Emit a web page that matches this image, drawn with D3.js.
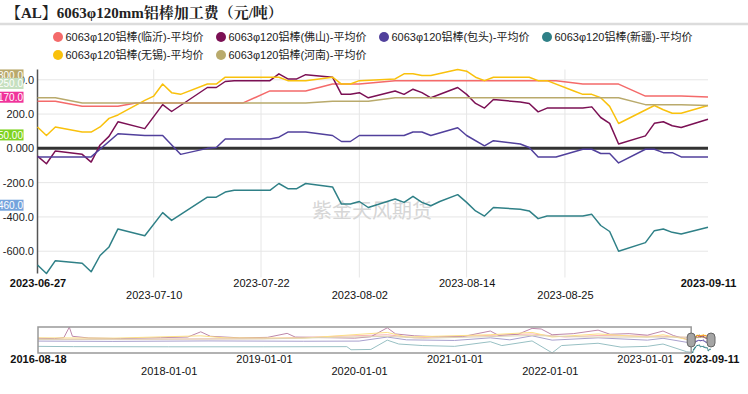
<!DOCTYPE html>
<html>
<head>
<meta charset="utf-8">
<script src="https://cdn.jsdelivr.net/npm/d3@7"></script>
<style>
body { margin: 0; background: #fff; }
svg { display: block; font-family: "Liberation Sans", Arial, "Noto Sans CJK SC", sans-serif; }
</style>
</head>
<body>
<div id="chart"></div>
<script>
// x categories (one per point of the zoomed window)
const dates = [
  "2023-06-27","2023-06-28","2023-06-29","2023-06-30",
  "2023-07-01","2023-07-02","2023-07-03","2023-07-04","2023-07-05","2023-07-06","2023-07-07","2023-07-08",
  "2023-07-09","2023-07-10","2023-07-11","2023-07-12","2023-07-13","2023-07-14","2023-07-15","2023-07-16",
  "2023-07-17","2023-07-18","2023-07-19","2023-07-20","2023-07-21","2023-07-22","2023-07-23","2023-07-24",
  "2023-07-25","2023-07-26","2023-07-27","2023-07-28","2023-07-29","2023-07-30","2023-07-31",
  "2023-08-01","2023-08-02","2023-08-03","2023-08-04","2023-08-05","2023-08-06","2023-08-07","2023-08-08",
  "2023-08-09","2023-08-10","2023-08-11","2023-08-12","2023-08-13","2023-08-14","2023-08-15","2023-08-16",
  "2023-08-17","2023-08-18","2023-08-19","2023-08-20","2023-08-21","2023-08-22","2023-08-23","2023-08-24",
  "2023-08-25","2023-08-26","2023-08-27","2023-08-28","2023-08-29","2023-08-30","2023-08-31",
  "2023-09-01","2023-09-02","2023-09-04","2023-09-05","2023-09-06","2023-09-07","2023-09-08","2023-09-09",
  "2023-09-10","2023-09-11"
];

const seriesNames = ["6063φ120铝棒(临沂)-平均价","6063φ120铝棒(佛山)-平均价","6063φ120铝棒(包头)-平均价",
  "6063φ120铝棒(新疆)-平均价","6063φ120铝棒(无锡)-平均价","6063φ120铝棒(河南)-平均价"];
const seriesColors = ["#f46a6a","#7b1054","#51409c","#2f8087","#f9c10c","#b9aa6c"];

// [date, value] at the points where the lines bend
const linyi = [["2023-06-27",275],["2023-06-29",275],["2023-07-02",245],["2023-07-06",245],["2023-07-08",265],["2023-07-20",265],
  ["2023-07-23",335],["2023-07-27",335],["2023-07-30",375],["2023-08-02",375],["2023-08-06",395],["2023-08-24",395],
  ["2023-08-27",375],["2023-08-31",375],["2023-09-04",305],["2023-09-08",305],["2023-09-11",300]];
const foshan = [["2023-06-27",-45],["2023-06-28",-90],["2023-06-29",-15],["2023-07-02",-35],["2023-07-03",-80],["2023-07-04",20],
  ["2023-07-05",70],["2023-07-06",155],["2023-07-09",115],["2023-07-11",255],["2023-07-12",215],["2023-07-16",355],
  ["2023-07-17",355],["2023-07-18",390],["2023-07-19",395],["2023-07-23",395],["2023-07-24",435],["2023-07-25",405],
  ["2023-07-26",405],["2023-07-27",430],["2023-07-30",415],["2023-07-31",315],["2023-08-01",315],["2023-08-02",325],
  ["2023-08-03",295],["2023-08-06",335],["2023-08-07",315],["2023-08-08",345],["2023-08-09",325],["2023-08-10",295],
  ["2023-08-13",355],["2023-08-14",315],["2023-08-15",262],["2023-08-16",235],["2023-08-17",285],["2023-08-20",270],
  ["2023-08-21",262],["2023-08-22",213],["2023-08-23",235],["2023-08-27",235],["2023-08-28",242],["2023-08-29",180],
  ["2023-08-30",146],["2023-08-31",25],["2023-09-04",73],["2023-09-05",146],["2023-09-06",155],["2023-09-07",132],
  ["2023-09-08",122],["2023-09-11",170]];
const baotou = [["2023-06-27",-50],["2023-07-03",-50],["2023-07-06",85],["2023-07-09",75],["2023-07-11",75],["2023-07-13",-35],
  ["2023-07-16",0],["2023-07-17",5],["2023-07-18",55],["2023-07-23",55],["2023-07-24",65],["2023-07-25",95],
  ["2023-07-27",95],["2023-07-30",75],["2023-07-31",40],["2023-08-01",40],["2023-08-02",75],["2023-08-07",75],
  ["2023-08-08",95],["2023-08-09",95],["2023-08-10",75],["2023-08-13",120],["2023-08-14",75],["2023-08-16",15],
  ["2023-08-17",45],["2023-08-20",25],["2023-08-21",5],["2023-08-22",-50],["2023-08-24",-50],["2023-08-27",-5],
  ["2023-08-28",-5],["2023-08-29",-30],["2023-08-30",-30],["2023-08-31",-85],["2023-09-04",-5],["2023-09-05",-5],
  ["2023-09-06",-25],["2023-09-07",-25],["2023-09-08",-50],["2023-09-11",-50]];
const xinjiang = [["2023-06-27",-680],["2023-06-28",-730],["2023-06-29",-655],["2023-07-02",-670],["2023-07-03",-720],
  ["2023-07-04",-625],["2023-07-05",-575],["2023-07-06",-470],["2023-07-09",-510],["2023-07-11",-375],["2023-07-12",-420],
  ["2023-07-16",-285],["2023-07-17",-285],["2023-07-18",-255],["2023-07-19",-245],["2023-07-23",-245],["2023-07-24",-205],
  ["2023-07-25",-235],["2023-07-26",-235],["2023-07-27",-205],["2023-07-30",-225],["2023-07-31",-325],["2023-08-01",-325],
  ["2023-08-02",-310],["2023-08-03",-345],["2023-08-06",-295],["2023-08-07",-315],["2023-08-08",-280],["2023-08-09",-315],
  ["2023-08-10",-335],["2023-08-11",-310],["2023-08-13",-270],["2023-08-14",-315],["2023-08-15",-365],["2023-08-16",-395],
  ["2023-08-17",-345],["2023-08-20",-355],["2023-08-21",-365],["2023-08-22",-410],["2023-08-23",-395],["2023-08-27",-395],
  ["2023-08-28",-385],["2023-08-29",-450],["2023-08-30",-485],["2023-08-31",-600],["2023-09-04",-550],["2023-09-05",-480],
  ["2023-09-06",-470],["2023-09-07",-490],["2023-09-08",-500],["2023-09-11",-460]];
const wuxi = [["2023-06-27",125],["2023-06-28",75],["2023-06-29",125],["2023-07-02",95],["2023-07-03",95],["2023-07-04",125],
  ["2023-07-05",175],["2023-07-06",195],["2023-07-09",280],["2023-07-10",305],["2023-07-11",375],["2023-07-12",325],
  ["2023-07-13",315],["2023-07-16",375],["2023-07-17",375],["2023-07-18",415],["2023-07-24",415],["2023-07-25",395],
  ["2023-07-27",395],["2023-07-30",415],["2023-07-31",375],["2023-08-01",375],["2023-08-02",395],["2023-08-06",405],
  ["2023-08-07",435],["2023-08-08",435],["2023-08-09",425],["2023-08-10",425],["2023-08-13",460],["2023-08-14",450],
  ["2023-08-15",415],["2023-08-16",395],["2023-08-17",415],["2023-08-21",415],["2023-08-22",395],["2023-08-23",395],
  ["2023-08-26",335],["2023-08-27",315],["2023-08-28",315],["2023-08-29",295],["2023-08-30",245],["2023-08-31",145],
  ["2023-09-05",250],["2023-09-06",225],["2023-09-07",205],["2023-09-08",205],["2023-09-11",250]];
const henan = [["2023-06-27",295],["2023-06-29",295],["2023-07-02",265],["2023-07-27",265],["2023-07-30",275],
  ["2023-08-03",275],["2023-08-06",295],["2023-08-31",295],["2023-09-04",255],["2023-09-08",255],["2023-09-11",250]];

// rough long history for the navigator strip
const navLinyi = [["2016-08-18",150],["2018-01-01",170],["2019-01-01",200],["2020-04-18",450],["2020-08-01",250],
  ["2021-10-25",500],["2022-03-01",300],["2022-07-05",400],["2023-03-11",350],["2023-06-10",280]];
const navFoshan = [["2016-08-18",220],["2016-10-20",200],["2016-11-25",260],["2016-12-16",940],["2016-12-28",350],
  ["2017-03-01",240],["2017-07-01",200],["2017-12-01",260],["2018-03-15",300],["2018-05-04",640],["2018-06-10",350],
  ["2018-10-01",250],["2019-01-15",280],["2019-03-31",540],["2019-05-01",300],["2019-09-01",260],["2019-12-15",230],
  ["2020-02-15",320],["2020-04-18",900],["2020-05-20",500],["2020-08-01",380],["2020-11-01",320],["2021-02-01",330],
  ["2021-05-18",690],["2021-06-20",400],["2021-09-01",480],["2021-10-25",860],["2021-11-29",820],["2022-01-10",450],
  ["2022-04-01",520],["2022-07-05",750],["2022-08-20",480],["2022-11-01",520],["2023-01-10",420],["2023-03-11",690],
  ["2023-04-20",400],["2023-06-10",150]];
const navBaotou = [["2016-08-18",40],["2017-06-01",20],["2018-06-01",50],["2019-06-01",30],["2020-01-01",40],
  ["2020-04-18",300],["2020-07-01",120],["2021-01-01",80],["2021-05-18",250],["2021-08-01",120],["2021-10-25",380],
  ["2022-01-10",100],["2022-07-05",250],["2023-01-10",100],["2023-03-11",220],["2023-06-10",-40]];
const navXinjiang = [["2016-08-18",-300],["2017-01-01",-320],["2018-01-01",-330],["2019-01-01",-330],["2019-11-15",-320],
  ["2019-12-01",-520],["2020-02-15",-500],["2020-04-18",100],["2020-06-01",-150],["2020-09-01",-250],["2021-01-01",-300],
  ["2021-05-18",0],["2021-07-01",-250],["2021-10-25",50],["2022-01-10",-720],["2022-02-15",-250],["2022-07-05",-100],
  ["2022-10-01",-350],["2023-01-10",-300],["2023-03-11",-150],["2023-06-10",-650]];
const navWuxi = [["2016-08-18",250],["2017-06-01",230],["2018-05-04",380],["2018-08-01",250],["2019-06-01",230],
  ["2020-04-18",600],["2020-07-01",300],["2021-05-18",450],["2021-10-25",600],["2022-01-10",300],["2022-07-05",500],
  ["2023-01-10",300],["2023-03-11",450],["2023-06-10",150]];
const navHenan = [["2016-08-18",150],["2019-01-01",180],["2020-04-18",350],["2020-09-01",220],["2021-10-25",400],
  ["2022-06-01",300],["2023-06-10",295]];

const yTicks = [400, 200, 0, -200, -400, -600];
const yTickLabels = ["400.0", "200.0", "0.000", "-200.0", "-400.0", "-600.0"];
const xTicks = ["2023-06-27","2023-07-10","2023-07-22","2023-08-02","2023-08-14","2023-08-25","2023-09-11"];
const navTicks = ["2016-08-18","2018-01-01","2019-01-01","2020-01-01","2021-01-01","2022-01-01","2023-01-01","2023-09-11"];
const navRows = [0, 1, 0, 1, 0, 1, 0, 0];

// last-value tags on the y axis
const lastValues = [300, 250, 170, -50, -460];
const lastLabels = ["300.0", "250.0", "170.0", "-50.00", "-460.0"];
const lastColors = ["#b9a96c", "#c6e0c0", "#f0339b", "#7ed321", "#74a3dd"];

const series = [linyi, foshan, baotou, xinjiang, wuxi, henan];
const navSeries = [navLinyi, navFoshan, navBaotou, navXinjiang, navWuxi, navHenan];

const plotLeft = 37.5, plotRight = 708, plotTop = 69.5, plotBottom = 273.5;

const svg = d3.select("#chart").append("svg")
  .attr("width", 748)
  .attr("height", 394);

// title
svg.append("text")
  .attr("x", 6)
  .attr("y", 17.5)
  .style("font-family", "'Liberation Serif','Noto Serif CJK SC','Noto Sans CJK SC',serif")
  .style("font-size", "15px")
  .style("font-weight", "bold")
  .attr("fill", "#222")
  .text("【AL】6063φ120mm铝棒加工费（元/吨）");
svg.append("line")
  .attr("x1", 0).attr("x2", 748)
  .attr("y1", 24).attr("y2", 24)
  .attr("stroke", "#dcdcdc")
  .attr("stroke-width", 2.5);

// legend, 4 per row
const legend = svg.append("g");
seriesNames.forEach((name, i) => {
  const lx = 58 + (i % 4) * 163;
  const ly = 37 + Math.floor(i / 4) * 18;
  legend.append("circle").attr("cx", lx).attr("cy", ly).attr("r", 5).attr("fill", seriesColors[i]);
  legend.append("text")
    .attr("x", lx + 7.5)
    .attr("y", ly + 4)
    .style("font-size", "11px")
    .attr("fill", "#222")
    .text(name);
});

// scales
const x = d3.scalePoint().domain(dates).range([plotLeft, plotRight]);
const y = d3.scaleLinear().domain([-730, 460]).range([plotBottom, plotTop]);

// grid
svg.append("g").selectAll("line")
  .data(yTicks)
  .enter()
  .append("line")
  .attr("x1", plotLeft).attr("x2", plotRight)
  .attr("y1", d => y(d)).attr("y2", d => y(d))
  .attr("stroke", "#e6e6e6");
svg.append("g").selectAll("line")
  .data(xTicks.slice(1, -1))
  .enter()
  .append("line")
  .attr("x1", d => x(d)).attr("x2", d => x(d))
  .attr("y1", plotTop).attr("y2", plotBottom + 4)
  .attr("stroke", "#e6e6e6");

// watermark
svg.append("text")
  .attr("x", 372)
  .attr("y", 218)
  .attr("text-anchor", "middle")
  .style("font-family", "'Noto Sans CJK SC',sans-serif")
  .style("font-size", "20px")
  .attr("fill", "#d6d6d6")
  .text("紫金天风期货");

// y axis line
svg.append("line")
  .attr("x1", plotLeft).attr("x2", plotLeft)
  .attr("y1", plotTop).attr("y2", plotBottom)
  .attr("stroke", "#555")
  .attr("stroke-width", 1.5);

// zero line
svg.append("line")
  .attr("x1", plotLeft).attr("x2", plotRight)
  .attr("y1", y(0)).attr("y2", y(0))
  .attr("stroke", "#333")
  .attr("stroke-width", 3);

// series lines
const line = d3.line()
  .x(d => x(d[0]))
  .y(d => y(d[1]));
series.forEach((s, i) => {
  svg.append("path")
    .datum(s)
    .attr("d", line)
    .attr("fill", "none")
    .attr("stroke", seriesColors[i])
    .attr("stroke-width", 1.5)
    .attr("stroke-linejoin", "round");
});

// y axis labels
const yAxis = svg.append("g")
  .attr("transform", "translate(34,0)")
  .call(d3.axisLeft(y).tickValues(yTicks).tickSize(0).tickPadding(0).tickFormat((d, i) => yTickLabels[i]));
yAxis.select(".domain").remove();
yAxis.selectAll("text")
  .style("font-family", "'Liberation Sans',Arial,sans-serif")
  .style("font-size", "11px")
  .attr("fill", "#222");

// last value tags, partly cut by the page edge as in the source
lastValues.forEach((v, i) => {
  const cy = y(v) - 22;
  svg.append("rect")
    .attr("x", -8).attr("y", cy - 5.5)
    .attr("width", 31.5).attr("height", 11)
    .attr("fill", lastColors[i]);
  svg.append("text")
    .attr("x", 23).attr("y", cy + 3.8)
    .attr("text-anchor", "end")
    .style("font-size", "10px")
    .attr("fill", "#fff")
    .text(lastLabels[i]);
});

// x axis labels, staggered in two rows
const xAxis = svg.append("g")
  .attr("transform", `translate(0,${plotBottom})`)
  .call(d3.axisBottom(x).tickValues(xTicks).tickSize(0));
xAxis.select(".domain").remove();
xAxis.selectAll("text")
  .attr("y", (d, i) => i % 2 ? 25 : 13)
  .attr("dy", "0")
  .style("font-family", "'Liberation Sans',Arial,sans-serif")
  .style("font-size", "11px")
  .style("font-weight", (d, i) => (i === 0 || i === xTicks.length - 1) ? "bold" : "normal")
  .attr("fill", "#111");

// navigator
const parse = d3.timeParse("%Y-%m-%d");
const navTop = 327, navBottom = 353;
const nx = d3.scaleTime().domain([parse("2016-08-18"), parse("2023-09-11")]).range([38, 711]);
const ny = d3.scaleLinear().domain([-730, 950]).range([navBottom, navTop]);
const navLine = d3.line()
  .x(d => nx(parse(d[0])))
  .y(d => ny(d[1]));
navSeries.forEach((s, i) => {
  svg.append("path")
    .datum(s.concat(series[i]))
    .attr("d", navLine)
    .attr("fill", "none")
    .attr("stroke", seriesColors[i])
    .attr("stroke-width", 1);
});
const selStart = nx(parse(dates[0]));
svg.append("rect")
  .attr("x", 38).attr("y", navTop)
  .attr("width", selStart - 38).attr("height", navBottom - navTop)
  .attr("fill", "#fff")
  .attr("fill-opacity", 0.5)
  .attr("stroke", "#999")
  .attr("stroke-width", 1.5);
[selStart, nx(parse(dates[dates.length - 1]))].forEach(hx => {
  svg.append("rect")
    .attr("x", hx - 4).attr("y", 333)
    .attr("width", 8).attr("height", 14)
    .attr("rx", 4)
    .attr("fill", "#a5a5a5")
    .attr("stroke", "#666");
});

const navAxis = svg.append("g")
  .attr("transform", `translate(0,${navBottom})`)
  .call(d3.axisBottom(nx).tickValues(navTicks.map(parse)).tickSize(0).tickFormat(d3.timeFormat("%Y-%m-%d")));
navAxis.select(".domain").remove();
navAxis.selectAll("text")
  .attr("y", (d, i) => navRows[i] ? 22 : 10)
  .attr("dy", "0")
  .style("font-family", "'Liberation Sans',Arial,sans-serif")
  .style("font-size", "11px")
  .style("font-weight", (d, i) => (i === 0 || i === navTicks.length - 1) ? "bold" : "normal")
  .attr("fill", "#111");
</script>
</body>
</html>
